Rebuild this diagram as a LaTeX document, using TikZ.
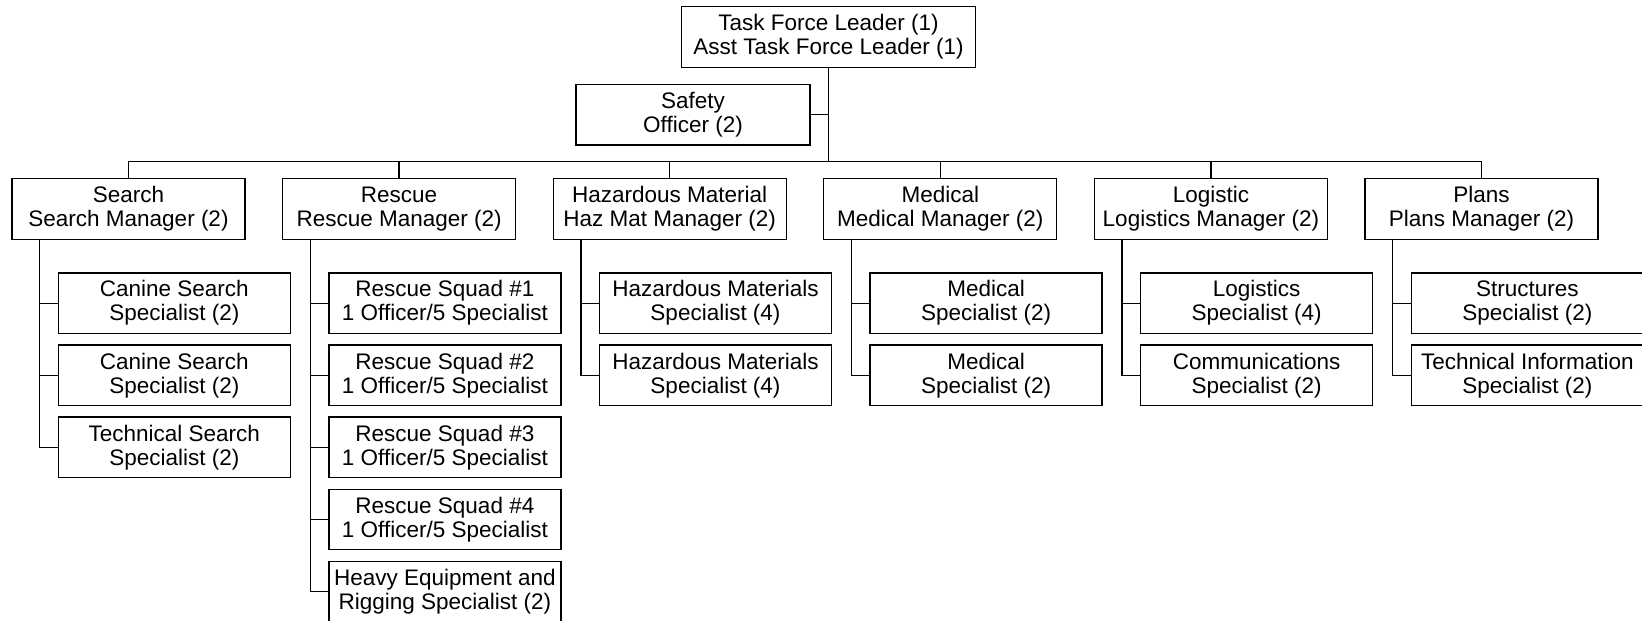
\documentclass[tikz,border=0pt]{standalone}
\usepackage{fontspec}
\setmainfont{Liberation Sans}
\usetikzlibrary{positioning}

\begin{document}
\begin{tikzpicture}[x=1pt, y=1pt, line width=1.3pt,
  box/.style={draw, minimum width=232pt, minimum height=60.5pt, inner sep=0pt,
    align=center, font=\fontsize{22.5}{24}\selectfont},
  unit/.style={box, minimum width=233pt, minimum height=61pt},
  crew/.style={box, below=10.3pt of #1}]

\useasboundingbox (0,0) rectangle (1642,-621);

% leaders
\node[box, minimum width=294pt] (tfl) at (828.5,-37) {Task Force Leader (1)\\Asst Task Force Leader (1)};
\node[box, minimum width=234pt] (safety) at (693,-114.7) {Safety\\Officer (2)};

% units
\node[unit] (search) at (128.5,-208.9) {Search\\Search Manager (2)};
\node[unit, right=36.3pt of search] (rescue) {Rescue\\Rescue Manager (2)};
\node[unit, right=36.3pt of rescue] (hazmat) {Hazardous Material\\Haz Mat Manager (2)};
\node[unit, right=36.3pt of hazmat] (medical) {Medical\\Medical Manager (2)};
\node[unit, right=36.3pt of medical] (logistic) {Logistic\\Logistics Manager (2)};
\node[unit, right=36.3pt of logistic] (plans) {Plans\\Plans Manager (2)};

\coordinate (bar) at (0,-161.7);
\draw (tfl.south) -- (tfl.south |- bar);
\draw (safety.east) -- (safety.east -| tfl.south);
\draw (search.north) |- (plans.north |- bar) -- (plans.north);
\draw (rescue.north) -- (rescue.north |- bar);
\draw (hazmat.north) -- (hazmat.north |- bar);
\draw (medical.north) -- (medical.north |- bar);
\draw (logistic.north) -- (logistic.north |- bar);

% search
\node[box, anchor=north west] (srch1) at ([shift={(46.3,-32.2)}]search.south west) {Canine Search\\Specialist (2)};
\node[crew=srch1] (srch2) {Canine Search\\Specialist (2)};
\node[crew=srch2] (srch3) {Technical Search\\Specialist (2)};
\coordinate (srchbus) at ([xshift=28.3pt]search.south west);
\draw (srchbus) |- (srch3.west);
\draw (srch1.west) -- (srch1.west -| srchbus);
\draw (srch2.west) -- (srch2.west -| srchbus);

% rescue
\node[box, anchor=north west] (resc1) at ([shift={(46.3,-32.2)}]rescue.south west) {Rescue Squad \#1\\1 Officer/5 Specialist};
\node[crew=resc1] (resc2) {Rescue Squad \#2\\1 Officer/5 Specialist};
\node[crew=resc2] (resc3) {Rescue Squad \#3\\1 Officer/5 Specialist};
\node[crew=resc3] (resc4) {Rescue Squad \#4\\1 Officer/5 Specialist};
\node[crew=resc4] (resc5) {Heavy Equipment and\\Rigging Specialist (2)};
\coordinate (rescbus) at ([xshift=28.3pt]rescue.south west);
\draw (rescbus) |- (resc5.west);
\draw (resc1.west) -- (resc1.west -| rescbus);
\draw (resc2.west) -- (resc2.west -| rescbus);
\draw (resc3.west) -- (resc3.west -| rescbus);
\draw (resc4.west) -- (resc4.west -| rescbus);

% hazardous material
\node[box, anchor=north west] (haz1) at ([shift={(46.3,-32.2)}]hazmat.south west) {Hazardous Materials\\Specialist (4)};
\node[crew=haz1] (haz2) {Hazardous Materials\\Specialist (4)};
\coordinate (hazbus) at ([xshift=28.3pt]hazmat.south west);
\draw (hazbus) |- (haz2.west);
\draw (haz1.west) -- (haz1.west -| hazbus);

% medical
\node[box, anchor=north west] (med1) at ([shift={(46.3,-32.2)}]medical.south west) {Medical\\Specialist (2)};
\node[crew=med1] (med2) {Medical\\Specialist (2)};
\coordinate (medbus) at ([xshift=28.3pt]medical.south west);
\draw (medbus) |- (med2.west);
\draw (med1.west) -- (med1.west -| medbus);

% logistic
\node[box, anchor=north west] (log1) at ([shift={(46.3,-32.2)}]logistic.south west) {Logistics\\Specialist (4)};
\node[crew=log1] (log2) {Communications\\Specialist (2)};
\coordinate (logbus) at ([xshift=28.3pt]logistic.south west);
\draw (logbus) |- (log2.west);
\draw (log1.west) -- (log1.west -| logbus);

% plans
\node[box, anchor=north west] (pln1) at ([shift={(46.3,-32.2)}]plans.south west) {Structures\\Specialist (2)};
\node[crew=pln1] (pln2) {Technical Information\\Specialist (2)};
\coordinate (plnbus) at ([xshift=28.3pt]plans.south west);
\draw (plnbus) |- (pln2.west);
\draw (pln1.west) -- (pln1.west -| plnbus);

\end{tikzpicture}
\end{document}
